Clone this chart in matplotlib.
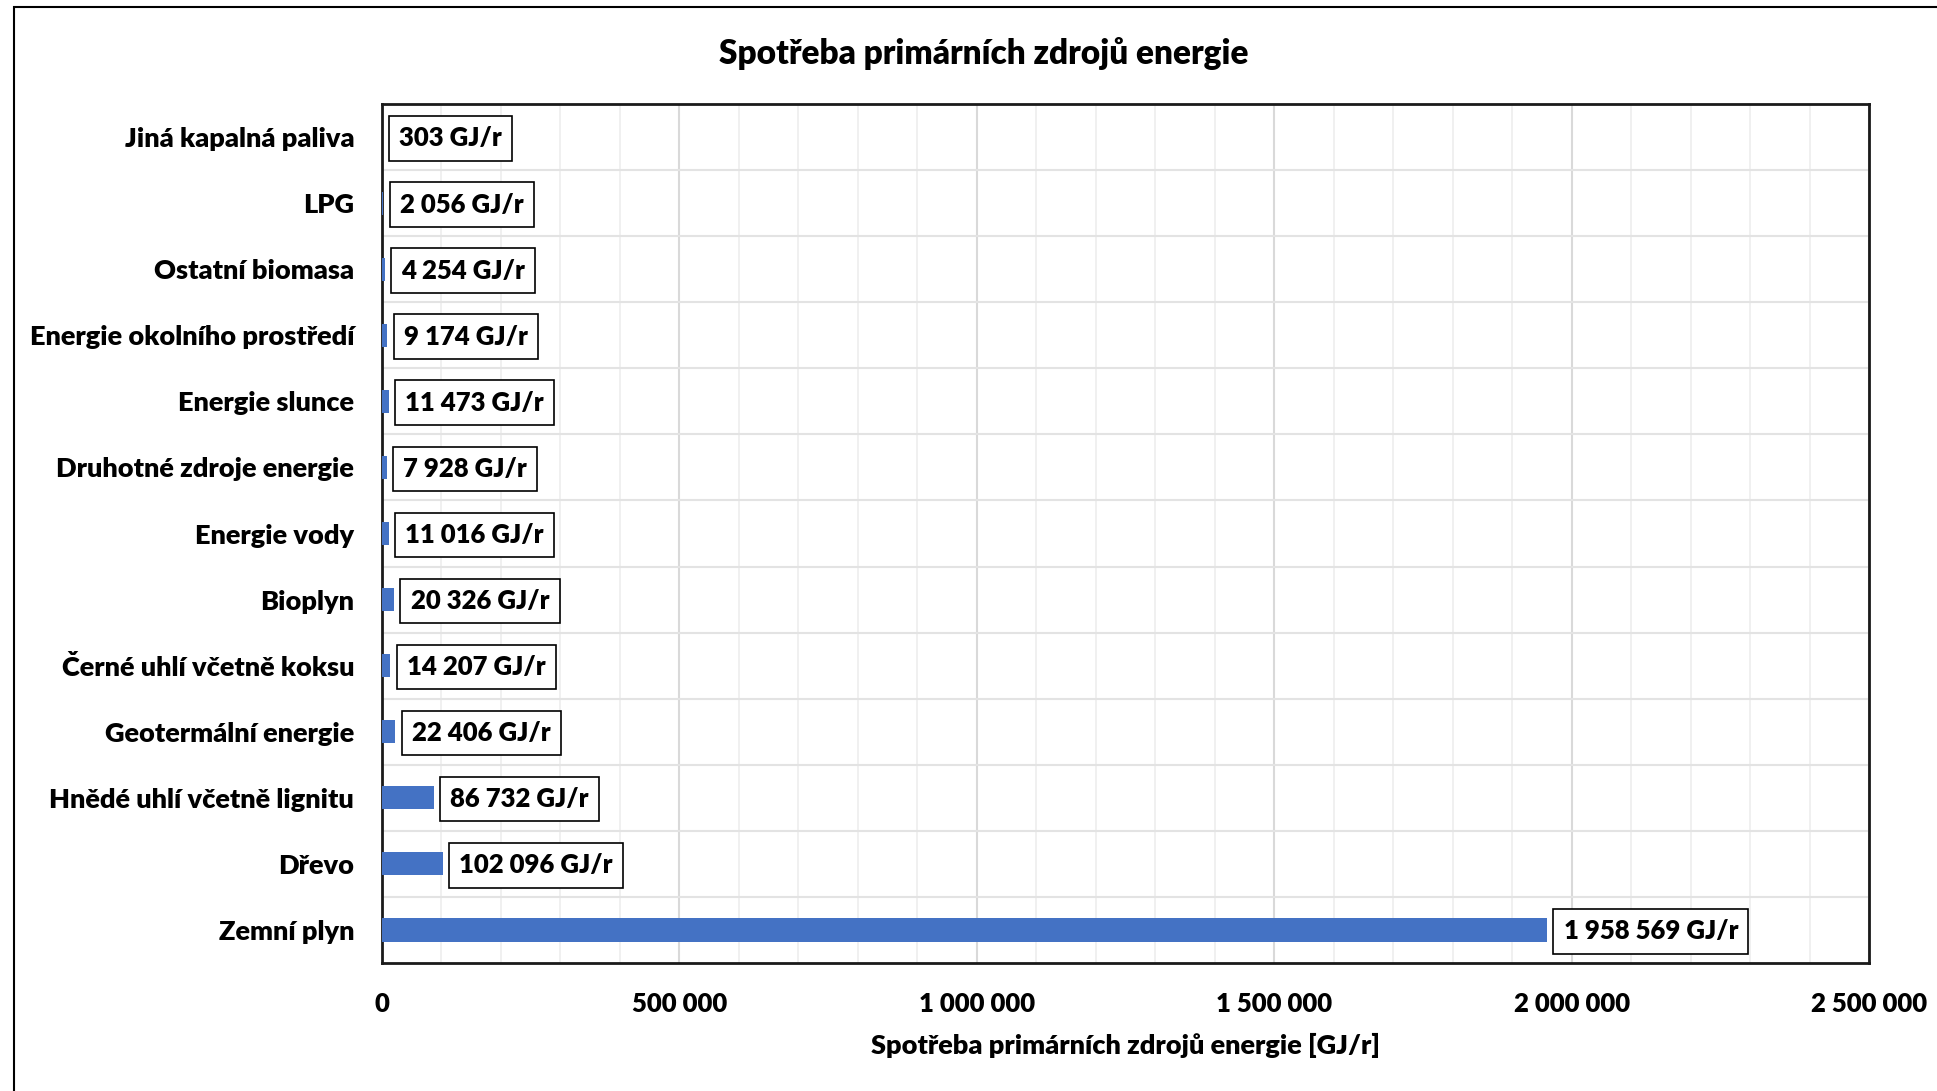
import matplotlib
matplotlib.use("Agg")
import matplotlib.pyplot as plt
from matplotlib.ticker import MultipleLocator, FuncFormatter
from matplotlib.patches import Rectangle

plt.rcParams['font.family'] = ['Lato', 'DejaVu Sans']
WEIGHT = "heavy"

categories = ["Zemní plyn", "Dřevo", "Hnědé uhlí včetně lignitu", "Geotermální energie",
              "Černé uhlí včetně koksu", "Bioplyn", "Energie vody", "Druhotné zdroje energie",
              "Energie slunce", "Energie okolního prostředí", "Ostatní biomasa", "LPG",
              "Jiná kapalná paliva"]
values = [1958569, 102096, 86732, 22406, 14207, 20326, 11016, 7928, 11473, 9174, 4254, 2056, 303]
x_ticks = [0, 500000, 1000000, 1500000, 2000000, 2500000]

W, H = 1937, 1091
fig = plt.figure(figsize=(W / 100, H / 100), dpi=100)
ax = fig.add_axes([382 / W, 1 - 963 / H, (1869 - 382) / W, (963 - 104) / H])

def fmt(v):
    return f"{v:,}".replace(",", " ")

y = list(range(len(categories)))
ax.barh(y, values, height=0.35, color="#4472C4", zorder=3)
ax.set_xlim(x_ticks[0], x_ticks[-1])
ax.set_ylim(-0.5, len(categories) - 0.5)
ax.set_yticks(y)
ax.set_yticklabels(categories, fontsize=19.5, fontweight=WEIGHT)
ax.set_xticks(x_ticks)
ax.xaxis.set_minor_locator(MultipleLocator(100000))
ax.xaxis.set_major_formatter(FuncFormatter(lambda v, p: fmt(int(v))))
ax.tick_params(axis="x", labelsize=18.5, length=0, pad=21, which="both")
for lab in ax.get_xticklabels():
    lab.set_fontweight(WEIGHT)
ax.tick_params(axis="y", length=0, pad=20)
ax.grid(True, axis="x", which="major", color="#D9D9D9", linewidth=1.5, zorder=0)
ax.grid(True, axis="x", which="minor", color="#EDEDED", linewidth=1.2, zorder=0)
ax.set_yticks([i + 0.5 for i in y], minor=True)
ax.grid(True, axis="y", which="minor", color="#E3E3E3", linewidth=1.5, zorder=0)
ax.tick_params(axis="y", which="minor", length=0)
for s in ax.spines.values():
    s.set_linewidth(2)
    s.set_color("#1a1a1a")
ax.set_xlabel("Spotřeba primárních zdrojů energie [GJ/r]", fontsize=19.5, fontweight=WEIGHT, labelpad=12)

for yi, v in zip(y, values):
    ax.annotate(f"{fmt(v)} GJ/r", xy=(v, yi), xytext=(12, -1), textcoords="offset points",
                ha="left", va="center", fontsize=18.5, fontweight=WEIGHT, zorder=5,
                bbox=dict(boxstyle="square,pad=0.4", facecolor="white", edgecolor="black", linewidth=1.2))

fig.text((587 + 1006) / 2 / 1568, 1 - 53 / H, "Spotřeba primárních zdrojů energie",
         ha="center", va="center", fontsize=24, fontweight=WEIGHT)

# outer chart border
fig.patches.append(Rectangle((14 / W, -0.01), 1.02, 1 - 7 / H + 0.01, transform=fig.transFigure,
                             fill=False, edgecolor="black", linewidth=1.5))

fig.savefig("out.png", dpi=100)
